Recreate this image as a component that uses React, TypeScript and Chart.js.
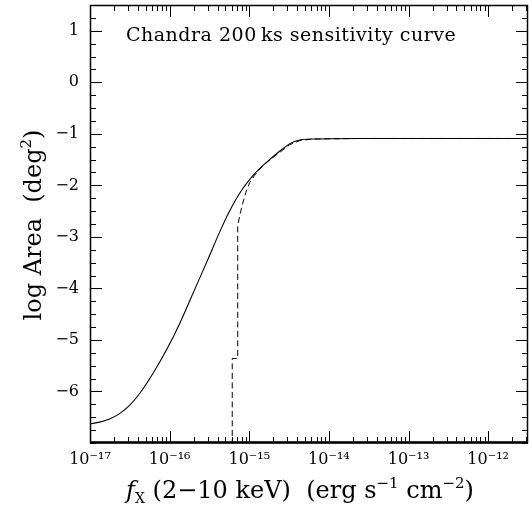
import React, { useEffect, useRef } from 'react';
import { Chart, registerables } from 'chart.js';

Chart.register(...registerables);

// ---- Data ----
const X_MAJOR_TICKS = [1e-17, 1e-16, 1e-15, 1e-14, 1e-13, 1e-12];
const X_MINOR_MULTIPLIERS = [2, 3, 4, 5, 6, 7, 8, 9];
const Y_MAJOR_TICKS = [-6, -5, -4, -3, -2, -1, 0, 1];
const Y_MINOR_STEP = 0.25;
const X_MIN = 1e-17;
const X_MAX = 3.162e-12;
const Y_MIN = -7;
const Y_MAX = 1.5;

// solid curve: flux (erg s^-1 cm^-2) vs log area (deg^2)
const SOLID_FLUX = [
  1.0e-17, 1.32e-17, 1.76e-17, 2.35e-17, 3.14e-17, 4.2e-17, 6.17e-17, 9.08e-17,
  1.34e-16, 1.96e-16, 2.9e-16, 4.47e-16, 5.97e-16, 7.98e-16, 1.07e-15, 1.42e-15,
  1.9e-15, 2.54e-15, 3.23e-15, 4.32e-15, 6.35e-15, 2.45e-14, 3.162e-12,
];
const SOLID_LOG_AREA = [
  -6.63, -6.595, -6.535, -6.43, -6.27, -6.04, -5.65, -5.2,
  -4.68, -4.1, -3.50, -2.83, -2.43, -2.1, -1.84, -1.64,
  -1.47, -1.31, -1.19, -1.12, -1.1, -1.09, -1.09,
];

// dashed curve
const DASHED_FLUX = [
  6.11e-16, 6.11e-16, 7.16e-16, 7.16e-16, 7.6e-16, 8.17e-16, 9.04e-16, 1.01e-15,
  1.16e-15, 1.36e-15, 1.61e-15, 1.98e-15, 2.56e-15, 3.23e-15, 4.32e-15, 6.35e-15,
  2.45e-14, 3.162e-12,
];
const DASHED_LOG_AREA = [
  -7.6, -5.36, -5.36, -2.78, -2.58, -2.38, -2.14, -1.95,
  -1.81, -1.68, -1.57, -1.46, -1.33, -1.21, -1.13, -1.1,
  -1.09, -1.09,
];

const ANNOTATION = 'Chandra 200\u2009ks sensitivity curve';

const FONT = '"DejaVu Serif", "Liberation Serif", serif';

const SUP: Record<string, string> = {
  '-': '\u207B', '0': '\u2070', '1': '\u00B9', '2': '\u00B2', '3': '\u00B3',
  '4': '\u2074', '5': '\u2075', '6': '\u2076', '7': '\u2077', '8': '\u2078', '9': '\u2079',
};
const toSup = (s: string) => s.split('').map((c) => SUP[c] ?? c).join('');

type Seg = { text: string; size: number; dy?: number; italic?: boolean };

function richWidth(ctx: CanvasRenderingContext2D, segs: Seg[]) {
  let w = 0;
  for (const s of segs) {
    ctx.font = `${s.italic ? 'italic ' : ''}${s.size}px ${FONT}`;
    w += ctx.measureText(s.text).width;
  }
  return w;
}

function drawRich(ctx: CanvasRenderingContext2D, segs: Seg[], cx: number, baseline: number) {
  const total = richWidth(ctx, segs);
  let x = cx - total / 2;
  ctx.textAlign = 'left';
  ctx.textBaseline = 'alphabetic';
  for (const s of segs) {
    ctx.font = `${s.italic ? 'italic ' : ''}${s.size}px ${FONT}`;
    ctx.fillText(s.text, x, baseline + (s.dy || 0));
    x += ctx.measureText(s.text).width;
  }
}

const framePlugin = {
  id: 'frameTicks',
  afterDatasetsDraw(chart: any) {
    const { ctx, chartArea } = chart;
    const { left, right, top, bottom } = chartArea;
    const xs = chart.scales.x;
    const ys = chart.scales.y;
    ctx.save();
    ctx.strokeStyle = '#000';
    ctx.fillStyle = '#000';
    ctx.lineWidth = 1;
    ctx.setLineDash([]);
    ctx.beginPath();
    // x ticks (bottom & top)
    for (const dec of X_MAJOR_TICKS) {
      for (const m of [1, ...X_MINOR_MULTIPLIERS]) {
        const v = m * dec;
        if (v < X_MIN * 0.999 || v > X_MAX) continue;
        const px = Math.round(xs.getPixelForValue(v)) + 0.5;
        const len = m === 1 ? 12 : 6;
        ctx.moveTo(px, bottom);
        ctx.lineTo(px, bottom - len);
        ctx.moveTo(px, top);
        ctx.lineTo(px, top + len);
      }
    }
    // y ticks (left & right)
    for (let v = Y_MIN; v <= Y_MAX + 1e-9; v += Y_MINOR_STEP) {
      const py = Math.round(ys.getPixelForValue(v)) + 0.5;
      const major = Y_MAJOR_TICKS.includes(Math.round(v)) && Math.abs(v - Math.round(v)) < 1e-6;
      const len = major ? 12 : 6;
      ctx.moveTo(left, py);
      ctx.lineTo(left + len, py);
      ctx.moveTo(right, py);
      ctx.lineTo(right - len, py);
    }
    ctx.stroke();
    // frame
    ctx.lineWidth = 1.5;
    ctx.strokeRect(left + 0.5, top + 0.5, right - left - 1, bottom - top - 1);
    ctx.lineWidth = 2.5;
    ctx.beginPath();
    ctx.moveTo(left, bottom - 0.5);
    ctx.lineTo(right, bottom - 0.5);
    ctx.stroke();

    // annotation
    ctx.font = `19px ${FONT}`;
    (ctx as any).letterSpacing = '0.5px';
    ctx.textAlign = 'left';
    ctx.textBaseline = 'alphabetic';
    ctx.fillText(ANNOTATION, 126, 41);
    (ctx as any).letterSpacing = '0px';

    // x axis title
    drawRich(
      ctx,
      [
        { text: 'f', size: 24, italic: true },
        { text: 'X', size: 14, dy: 5 },
        { text: ' (2\u221210 keV)  (erg s', size: 24 },
        { text: '\u22121', size: 15, dy: -10 },
        { text: ' cm', size: 24 },
        { text: '\u22122', size: 15, dy: -10 },
        { text: ')', size: 24 },
      ],
      300,
      498,
    );

    // y axis title
    ctx.translate(41, 225);
    ctx.rotate(-Math.PI / 2);
    drawRich(
      ctx,
      [
        { text: 'log Area  (deg', size: 24 },
        { text: '2', size: 15, dy: -10 },
        { text: ')', size: 24 },
      ],
      0,
      0,
    );
    ctx.restore();
  },
};

export default function App() {
  const ref = useRef<HTMLCanvasElement | null>(null);

  useEffect(() => {
    if (!ref.current) return;
    const chart = new Chart(ref.current, {
      type: 'line',
      data: {
        datasets: [
          {
            label: 'solid',
            data: SOLID_FLUX.map((x, i) => ({ x, y: SOLID_LOG_AREA[i] })),
            borderColor: '#000',
            borderWidth: 1.1,
            pointRadius: 0,
            cubicInterpolationMode: 'monotone',
            fill: false,
          },
          {
            label: 'dashed',
            data: DASHED_FLUX.map((x, i) => ({ x, y: DASHED_LOG_AREA[i] })),
            borderColor: '#000',
            borderWidth: 1,
            borderDash: [6, 3.5],
            pointRadius: 0,
            tension: 0,
            fill: false,
          },
        ],
      },
      options: {
        animation: false,
        responsive: false,
        layout: { padding: { top: 5, right: 1, left: 0, bottom: 0 } },
        plugins: {
          legend: { display: false },
          tooltip: { enabled: false },
          title: { display: false },
        },
        scales: {
          x: {
            type: 'logarithmic',
            min: X_MIN,
            max: X_MAX,
            grid: { display: false, drawTicks: false },
            border: { display: false },
            afterBuildTicks: (scale: any) => {
              scale.ticks = X_MAJOR_TICKS.map((v) => ({ value: v }));
            },
            afterFit: (scale: any) => {
              scale.height = 65;
              scale.paddingLeft = 0;
              scale.paddingRight = 0;
            },
            ticks: {
              autoSkip: false,
              maxRotation: 0,
              padding: 7,
              color: '#000',
              font: { family: FONT, size: 16 },
              callback: (value: any) => '10' + toSup(String(Math.round(Math.log10(Number(value))))),
            },
          },
          y: {
            type: 'linear',
            min: Y_MIN,
            max: Y_MAX,
            grid: { display: false, drawTicks: false },
            border: { display: false },
            afterBuildTicks: (scale: any) => {
              scale.ticks = Y_MAJOR_TICKS.map((v) => ({ value: v }));
            },
            afterFit: (scale: any) => {
              scale.width = 90;
              scale.paddingTop = 0;
              scale.paddingBottom = 0;
            },
            ticks: {
              autoSkip: false,
              padding: 11,
              color: '#000',
              font: { family: FONT, size: 16 },
              callback: (value: any) => String(value).replace('-', '\u2212'),
            },
          },
        },
      },
      plugins: [framePlugin],
    } as any);
    return () => chart.destroy();
  }, []);

  return (
    <div style={{ position: 'absolute', left: 0, top: 0, width: 529, height: 508, background: '#fff' }}>
      <canvas ref={ref} width={529} height={508} style={{ display: 'block' }} />
    </div>
  );
}
